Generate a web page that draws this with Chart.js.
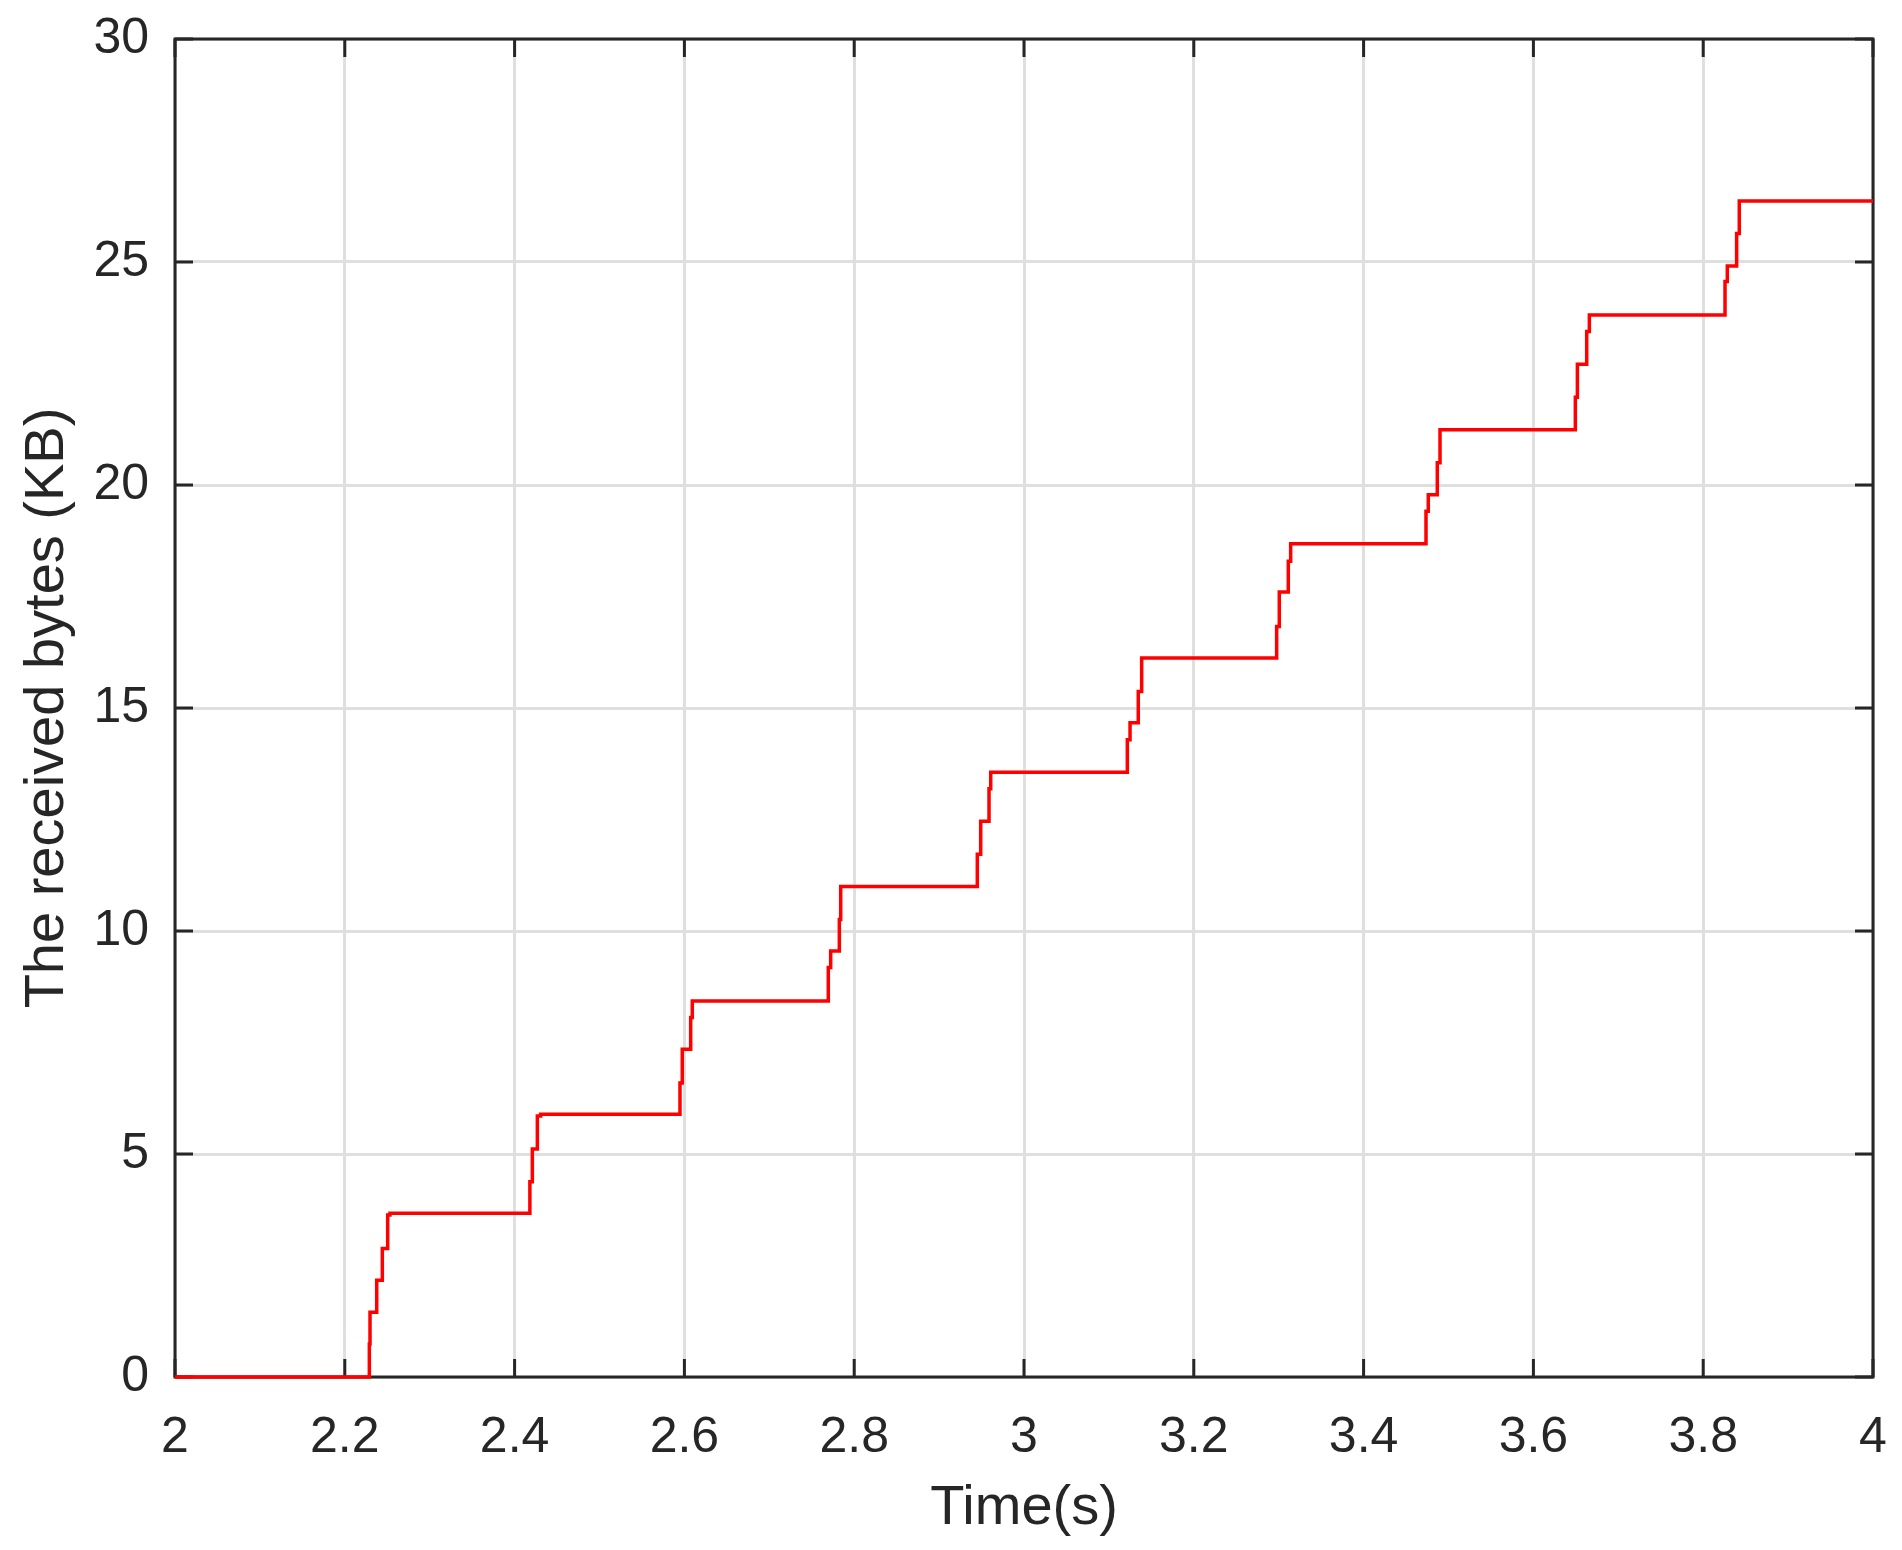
<!DOCTYPE html>
<html>
<head>
<meta charset="utf-8">
<script src="https://cdn.jsdelivr.net/npm/chart.js@4/dist/chart.umd.min.js"></script>
<style>
  html, body { margin: 0; padding: 0; background: #fff; }
  canvas { display: block; }
</style>
</head>
<body>
<canvas id="bytesChart" width="1902" height="1550"></canvas>
<script>
// step times (s) and cumulative received bytes (KB)
var stepTimes = [2, 2.2289, 2.2297, 2.2376, 2.2442, 2.2505, 2.2532,
    2.418, 2.4209, 2.4268, 2.4307,
    2.5948, 2.5975, 2.6074, 2.6093,
    2.7695, 2.7723, 2.7825, 2.7841,
    2.945, 2.949, 2.9588, 2.9608,
    3.1217, 3.1249, 3.1346, 3.1386,
    3.2976, 3.3007, 3.3113, 3.3141,
    3.4735, 3.4762, 3.4868, 3.49,
    3.6494, 3.6518, 3.6628, 3.6659,
    3.8257, 3.8284, 3.8394, 3.8425, 4];
var receivedKB = [0, 0.74, 1.45, 2.17, 2.88, 3.63, 3.67,
    4.38, 5.11, 5.85, 5.89,
    6.59, 7.35, 8.06, 8.43,
    9.18, 9.55, 10.26, 11.0,
    11.72, 12.46, 13.19, 13.56,
    14.29, 14.67, 15.37, 16.12,
    16.83, 17.6, 18.29, 18.68,
    19.41, 19.78, 20.5, 21.24,
    21.97, 22.71, 23.44, 23.81,
    24.56, 24.91, 25.64, 26.37, 26.37];
var xTicks = [2, 2.2, 2.4, 2.6, 2.8, 3, 3.2, 3.4, 3.6, 3.8, 4];
var yTicks = [0, 5, 10, 15, 20, 25, 30];

var ink = "#262626";
var fontFamily = "'Liberation Sans', Arial, Helvetica, sans-serif";

var puntos = [];
for (let i = 0; i < stepTimes.length; i++) {
    puntos.push({ x: stepTimes[i], y: receivedKB[i] });
}

// box and inward ticks like matlab, drawn under the data
var axisBox = {
    id: "axisBox",
    beforeDatasetsDraw: function (chart) {
        let ctx = chart.ctx;
        let a = chart.chartArea;
        let xs = chart.scales.x;
        let ys = chart.scales.y;
        let len = 18;
        ctx.save();
        ctx.strokeStyle = ink;
        ctx.lineWidth = 3;
        ctx.beginPath();
        xTicks.forEach(function (v) {
            let px = xs.getPixelForValue(v);
            ctx.moveTo(px, a.bottom); ctx.lineTo(px, a.bottom - len);
            ctx.moveTo(px, a.top); ctx.lineTo(px, a.top + len);
        });
        yTicks.forEach(function (v) {
            let py = ys.getPixelForValue(v);
            ctx.moveTo(a.left, py); ctx.lineTo(a.left + len, py);
            ctx.moveTo(a.right, py); ctx.lineTo(a.right - len, py);
        });
        ctx.stroke();
        ctx.strokeRect(a.left, a.top, a.right - a.left, a.bottom - a.top);
        ctx.restore();
    }
};

var ctx = document.getElementById("bytesChart").getContext("2d");
var chart = new Chart(ctx, {
    type: "line",
    data: {
        datasets: [{
            data: puntos,
            stepped: "before",
            borderColor: "#ff0000",
            borderWidth: 3.5,
            pointRadius: 0,
            fill: false,
            clip: false
        }]
    },
    options: {
        responsive: false,
        animation: false,
        devicePixelRatio: 1,
        layout: { padding: { top: 39, right: 29, left: 0, bottom: 0 } },
        plugins: { legend: { display: false }, tooltip: { enabled: false } },
        scales: {
            x: {
                type: "linear",
                min: 2,
                max: 4,
                afterBuildTicks: function (s) { s.ticks = xTicks.map(v => ({ value: v })); },
                afterFit: function (s) {
                    s.height = 173;
                    s.paddingLeft = 0;
                    s.paddingRight = 0;
                },
                grid: { color: "#dfdfdf", lineWidth: 3, drawTicks: false },
                border: { display: false },
                ticks: {
                    color: ink,
                    padding: 31,
                    maxRotation: 0,
                    font: { family: fontFamily, size: 50 },
                    callback: function (v) { return String(v); }
                },
                title: {
                    display: true,
                    text: "Time(s)",
                    color: ink,
                    font: { family: fontFamily, size: 56 },
                    padding: { top: 0, bottom: 8 }
                }
            },
            y: {
                type: "linear",
                min: 0,
                max: 30,
                afterBuildTicks: function (s) { s.ticks = yTicks.map(v => ({ value: v })); },
                afterFit: function (s) {
                    s.width = 175;
                    s.paddingTop = 0;
                    s.paddingBottom = 0;
                },
                grid: { color: "#dfdfdf", lineWidth: 3, drawTicks: false },
                border: { display: false },
                ticks: {
                    color: ink,
                    padding: 26,
                    font: { family: fontFamily, size: 50 },
                    callback: function (v) { return String(v); }
                },
                title: {
                    display: true,
                    text: "The received bytes (KB)",
                    color: ink,
                    font: { family: fontFamily, size: 56 },
                    padding: { top: 14, bottom: 0 }
                }
            }
        }
    },
    plugins: [axisBox]
});
</script>
</body>
</html>
